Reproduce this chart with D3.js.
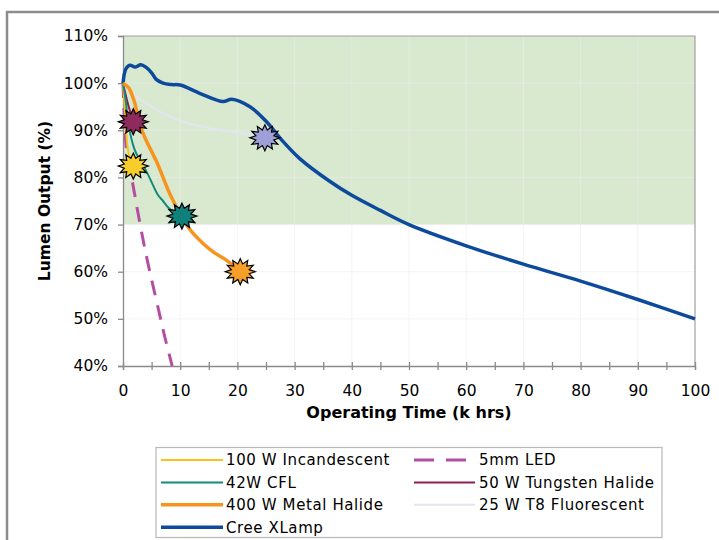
<!DOCTYPE html>
<html>
<head>
<meta charset="utf-8">
<script src="https://cdn.jsdelivr.net/npm/d3@7"></script>
<style>
  body { margin: 0; background: #fff; }
  svg { display: block; font-family: "DejaVu Sans", Verdana, sans-serif; }
</style>
</head>
<body>
<svg id="chart" width="719" height="540"></svg>
<script>
// lumen maintenance curves, [k hrs, % output]
const incandescent = [[0, 100], [0.3, 95], [0.6, 89], [1, 85], [1.8, 82.5]];
const cfl = [[0, 100], [0.5, 96], [1, 91], [2, 86], [3, 83.5], [4, 81.5], [5, 79], [6, 76.5], [7, 75], [8, 73.5], [10, 72]];
const metalHalide = [[0, 100], [1, 99], [2, 96], [3, 91], [4, 88], [5, 85.5], [6, 83], [7, 80], [8, 77], [9, 74.5], [10, 72], [12, 68.5], [14, 66], [16, 64], [18, 62.5], [20.5, 60]];
const cree = [[0, 100], [0.5, 103], [1.2, 103.8], [2.1, 103.4], [3.1, 103.9], [4, 103.4], [5, 102.2], [5.8, 100.8], [7, 100], [8.5, 99.7], [10, 99.6], [13.5, 97.8], [17.5, 96.1], [19, 96.6], [22.2, 95], [25.1, 91.8], [27.7, 88], [30.9, 84], [36, 79.3], [40, 76.2], [45, 73], [50, 70], [60, 65.5], [70, 61.6], [80, 58], [90, 54.1], [100, 50]];
const led = [[0, 100], [0.6, 86], [1.5, 80], [3.8, 65], [6.2, 52], [7.3, 46.2], [8.6, 40]];
const tungsten = [[0, 100], [1, 95], [1.8, 92]];
const t8 = [[0, 100], [2, 97.5], [5, 95], [8, 93], [10, 92], [15, 90.5], [20, 89.5], [25, 88.5]];

const seriesNames = ["100 W Incandescent", "42W CFL", "400 W Metal Halide", "Cree XLamp", "5mm LED", "50 W Tungsten Halide", "25 W T8 Fluorescent"];
const seriesData = [incandescent, cfl, metalHalide, cree, led, tungsten, t8];
const seriesColors = ["#f5c518", "#138a7c", "#f7941e", "#0d4a9c", "#b54ea3", "#8b1f55", "#e4e4f2"];
const seriesWidths = [2, 2, 3.5, 3.5, 3, 2, 2];

// end-of-life markers: [series index, x, y]
const markers = [[5, 1.8, 91.8], [0, 1.8, 82.4], [1, 10.3, 71.8], [2, 20.5, 60], [6, 24.8, 88.4]];
const markerColors = ["#f7cd2c", "#10807a", "#f6a02a", null, null, "#8e2a5c", "#9f9fd8"];

const xTicks = d3.range(0, 101, 10);
const yTicks = d3.range(40, 111, 10);
const goodBand = [70, 110];

const svg = d3.select("#chart");
const x = d3.scaleLinear().domain([0, 100]).range([123, 695]);
const y = d3.scaleLinear().domain([40, 110]).range([366, 36]);

// outer frame
svg.append("path")
  .attr("d", "M7,540 V12 H719")
  .attr("fill", "none")
  .attr("stroke", "#8c8c8c")
  .attr("stroke-width", 2.5);

// green band
svg.append("rect")
  .attr("x", x(0)).attr("y", y(goodBand[1]))
  .attr("width", x(100) - x(0))
  .attr("height", y(goodBand[0]) - y(goodBand[1]))
  .attr("fill", "#d8e9d0");

// faint grid
const grid = svg.append("g").attr("stroke", "rgba(236,236,236,0.6)").attr("stroke-width", 1);
grid.selectAll("line.v").data(xTicks.slice(1, -1)).enter().append("line")
  .attr("x1", d => x(d)).attr("x2", d => x(d))
  .attr("y1", y(40)).attr("y2", y(110));
grid.selectAll("line.h").data(yTicks.slice(1, -1)).enter().append("line")
  .attr("x1", x(0)).attr("x2", x(100))
  .attr("y1", d => y(d)).attr("y2", d => y(d));

// plot border top/right
svg.append("path")
  .attr("d", `M${x(0)},${y(110)} H${x(100)} V${y(40)}`)
  .attr("fill", "none").attr("stroke", "#a0a0a0").attr("stroke-width", 1.2);

// axes
const xAxis = svg.append("g")
  .attr("transform", `translate(0,${y(40)})`)
  .call(d3.axisBottom(x).tickValues(d3.range(0, 101, 5)).tickSize(4).tickFormat(d => d % 10 === 0 ? d : ""));
xAxis.selectAll(".tick line").attr("y1", -4);
xAxis.selectAll("text").attr("dy", "1.5em");

const yAxis = svg.append("g")
  .attr("transform", `translate(${x(0)},0)`)
  .call(d3.axisLeft(y).tickValues(yTicks).tickSize(5).tickFormat(d => d + "%"));
yAxis.selectAll("text").attr("x", -15);

svg.selectAll(".tick text")
  .attr("font-family", "DejaVu Sans, Verdana, sans-serif")
  .attr("font-size", 15.5)
  .attr("fill", "#000");
svg.selectAll(".domain, .tick line").attr("stroke", "#8a8a8a").attr("stroke-width", 1.3);

svg.append("text")
  .attr("x", 409).attr("y", 418)
  .attr("text-anchor", "middle")
  .attr("font-size", 16).attr("font-weight", "bold")
  .text("Operating Time (k hrs)");

svg.append("text")
  .attr("transform", `translate(50,${(y(40) + y(110)) / 2}) rotate(-90)`)
  .attr("text-anchor", "middle")
  .attr("font-size", 15.5).attr("font-weight", "bold")
  .text("Lumen Output (%)");

// lines
const line = d3.line()
  .x(d => x(d[0])).y(d => y(d[1]))
  .curve(d3.curveCatmullRom.alpha(0.5));

const drawOrder = [6, 3, 4, 0, 5, 1, 2];
svg.append("g").selectAll("path")
  .data(drawOrder).enter().append("path")
  .attr("d", i => line(seriesData[i]))
  .attr("fill", "none")
  .attr("stroke", i => seriesColors[i])
  .attr("stroke-width", i => seriesWidths[i])
  .attr("stroke-dasharray", i => i === 4 ? "15,10" : null)
  .attr("stroke-linejoin", "round");

// starburst markers
const starPath = (rx, ry, inner, n) => {
  const pts = [];
  for (let k = 0; k < n * 2; k++) {
    const a = Math.PI * k / n - Math.PI / 2;
    const r = k % 2 === 0 ? 1 : inner;
    pts.push([Math.cos(a) * rx * r, Math.sin(a) * ry * r]);
  }
  return "M" + pts.map(p => p.map(v => v.toFixed(2)).join(",")).join("L") + "Z";
};
svg.append("g").selectAll("path")
  .data(markers).enter().append("path")
  .attr("transform", d => `translate(${x(d[1])},${y(d[2])})`)
  .attr("d", starPath(15, 13, 0.62, 12))
  .attr("fill", d => markerColors[d[0]])
  .attr("stroke", "#000").attr("stroke-width", 1.2)
  .attr("stroke-linejoin", "miter");

// legend
const legend = svg.append("g");
legend.append("rect")
  .attr("x", 156).attr("y", 447.5).attr("width", 506).attr("height", 90)
  .attr("fill", "#fff").attr("stroke", "#b8b8b8").attr("stroke-width", 1.2);

const legendPos = [[0, 0], [0, 1], [0, 2], [0, 3], [1, 0], [1, 1], [1, 2]];
const colLine = [[161, 223], [414, 475]];
const colText = [226, 479];
const rowY = r => 460 + r * 22.4;

const item = legend.selectAll("g.item").data(seriesNames).enter().append("g");
item.append("line")
  .attr("x1", (d, i) => colLine[legendPos[i][0]][0])
  .attr("x2", (d, i) => colLine[legendPos[i][0]][1])
  .attr("y1", (d, i) => rowY(legendPos[i][1]))
  .attr("y2", (d, i) => rowY(legendPos[i][1]))
  .attr("stroke", (d, i) => seriesColors[i])
  .attr("stroke-width", (d, i) => seriesWidths[i])
  .attr("stroke-dasharray", (d, i) => i === 4 ? "20,12" : null);
item.append("text")
  .attr("x", (d, i) => colText[legendPos[i][0]])
  .attr("y", (d, i) => rowY(legendPos[i][1]))
  .attr("dy", "0.36em")
  .attr("font-size", 15)
  .attr("letter-spacing", 0.6)
  .text(d => d);
</script>
</body>
</html>
